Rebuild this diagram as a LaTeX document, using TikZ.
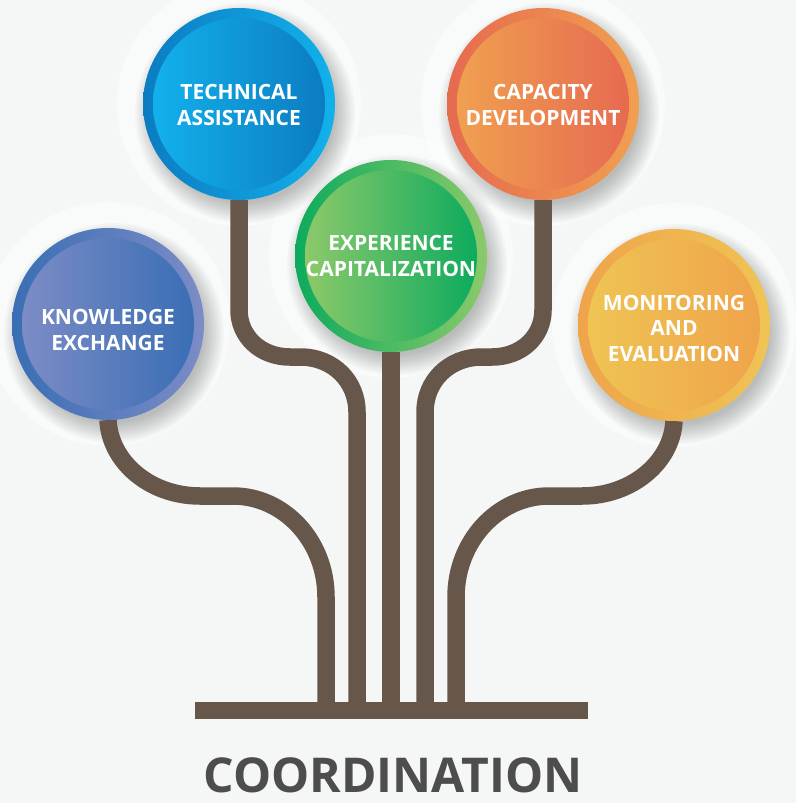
\documentclass[tikz,border=0pt]{standalone}
\usepackage{fontspec}
\setmainfont{Open Sans}
\definecolor{bgc}{RGB}{245,246,246}
\definecolor{brn}{RGB}{103,87,75}
\definecolor{coordc}{RGB}{77,77,77}
\definecolor{keA}{RGB}{58,110,180}
\definecolor{keB}{RGB}{124,140,198}
\definecolor{teA}{RGB}{12,124,193}
\definecolor{teB}{RGB}{18,177,236}
\definecolor{eeA}{RGB}{13,171,94}
\definecolor{eeB}{RGB}{140,201,106}
\definecolor{ceA}{RGB}{230,106,80}
\definecolor{ceB}{RGB}{240,160,80}
\definecolor{meA}{RGB}{239,164,74}
\definecolor{meB}{RGB}{239,196,84}
\pgfdeclarelayer{background}
\pgfdeclarelayer{shadowlayer}
\pgfdeclarelayer{branchlayer}
\pgfsetlayers{background,shadowlayer,branchlayer,main}
\begin{document}
\begin{tikzpicture}[x=1pt,y=-1pt,
  outerball/.style={circle, minimum size=192pt, inner sep=0pt, outer sep=0pt},
  innerball/.style={circle, minimum size=172pt, inner sep=0pt, outer sep=0pt},
  lbl/.style={text=white, font=\bfseries\fontsize{21}{25.5}\selectfont, align=center, inner sep=0pt},
  branch/.style={draw=brn, line width=17.5pt}
]
\useasboundingbox (0,0) rectangle (796,803);

% bubbles
\node[outerball, left color=keA, right color=keB] (ke) at (108,324) {};
\node[innerball, left color=keB, right color=keA] (kei) at (ke) {};
\node[lbl] (ket) at (108,330) {KNOWLEDGE\\EXCHANGE};

\node[outerball, left color=teA, right color=teB] (te) at (239,104) {};
\node[innerball, left color=teB, right color=teA] (tei) at (te) {};
\node[lbl] (tet) at (239,105) {TECHNICAL\\ASSISTANCE};

\node[outerball, left color=eeA, right color=eeB] (ee) at (391,256) {};
\node[innerball, left color=eeB, right color=eeA] (eei) at (ee) {};
\node[lbl] (eet) at (391,256) {EXPERIENCE\\CAPITALIZATION};

\node[outerball, left color=ceA, right color=ceB] (ce) at (543,104) {};
\node[innerball, left color=ceB, right color=ceA] (cei) at (ce) {};
\node[lbl] (cet) at (543,105) {CAPACITY\\DEVELOPMENT};

\node[outerball, left color=meA, right color=meB] (me) at (674,325) {};
\node[innerball, left color=meB, right color=meA] (mei) at (me) {};
\node[lbl] (met) at (674,328) {MONITORING\\AND\\EVALUATION};

% base bar and title
\coordinate (barL) at (195,710.5);
\coordinate (barR) at (588,710.5);
\coordinate (b1) at (326,708);
\coordinate (b2) at (357,708);
\coordinate (b3) at (391,708);
\coordinate (b4) at (425,708);
\coordinate (b5) at (456,708);
\node[text=coordc, font=\bfseries\fontsize{48}{56}\selectfont, anchor=base, inner sep=0pt] (coord) at (393,792) {COORDINATION};

\begin{pgfonlayer}{background}
  \fill[bgc] (0,0) rectangle (796,803);
  \foreach \p in {ke,te,ee,ce,me}{
    \fill[white, opacity=0.45] (\p) circle (122);
  }
\end{pgfonlayer}

\begin{pgfonlayer}{shadowlayer}
  \foreach \p in {ke,te,ee,ce,me}{
    \foreach \r in {90,92,...,110}{
      \fill[black, opacity=0.025] ([shift={(6,9)}]\p) circle (\r);
    }
  }
\end{pgfonlayer}

\begin{pgfonlayer}{branchlayer}
  \draw[brn, line width=17pt] (barL) -- (barR);
  \draw[branch] (ke.south) .. controls (110,462) and (150,496) .. (200,496)
     -- (233,496) .. controls (284,496) and (326,541) .. (326,597) -- (b1);
  \draw[branch] (te.south) -- (239,310) .. controls (239,336) and (260,357) .. (290,357)
     -- (300,357) .. controls (334,357) and (357,382) .. (357,412) -- (b2);
  \draw[branch] (ee.south) -- (b3);
  \draw[branch] (ce.south) -- (543,310) .. controls (543,336) and (522,357) .. (492,357)
     -- (482,357) .. controls (448,357) and (425,382) .. (425,412) -- (b4);
  \draw[branch] (me.south) .. controls (672,462) and (632,496) .. (582,496)
     -- (549,496) .. controls (498,496) and (456,541) .. (456,597) -- (b5);
\end{pgfonlayer}
\end{tikzpicture}
\end{document}
